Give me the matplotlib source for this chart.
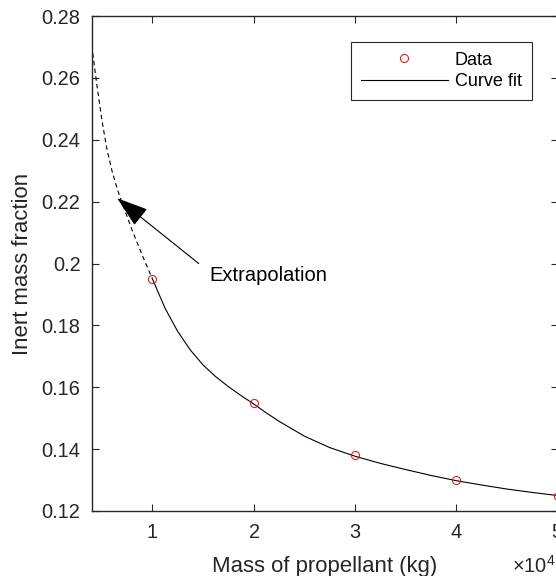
import numpy as np
import matplotlib
matplotlib.use("Agg")
import matplotlib.pyplot as plt
from matplotlib.ticker import ScalarFormatter

plt.rcParams['font.family'] = ['Liberation Sans', 'DejaVu Sans']
plt.rcParams['mathtext.fontset'] = 'custom'
plt.rcParams['mathtext.rm'] = 'Liberation Sans'
plt.rcParams['mathtext.it'] = 'Liberation Sans:italic'

# ---- data ----
propellant_mass = [10000, 20000, 30000, 40000, 50000]
inert_fraction = [0.195, 0.155, 0.138, 0.130, 0.125]

# curve fit values
fit_mass = [4100, 4500, 5000, 5500, 6000, 6500, 7000, 8000, 9000,
            10000, 11250, 12500, 13750, 15000, 16250, 17500, 18750,
            20000, 21250, 22500, 25000, 27500, 30000, 32500, 35000,
            37500, 40000, 42500, 45000, 47500, 50000]
fit_fraction = [0.2680, 0.2580, 0.2465, 0.2370, 0.2300, 0.2243, 0.2196, 0.2107, 0.2026,
                0.1950, 0.1855, 0.1780, 0.1720, 0.1672, 0.1634, 0.1602, 0.1573,
                0.1546, 0.1517, 0.1490, 0.1442, 0.1405, 0.1377, 0.1354, 0.1334,
                0.1315, 0.1298, 0.1284, 0.1271, 0.1260, 0.1250]
split_mass = 10000  # start of the measured range

x_label = "Mass of propellant (kg)"
y_label = "Inert mass fraction"
legend_labels = ["Data", "Curve fit"]
annotation_text = "Extrapolation"
arrow_tip = (6515, 0.2211)
arrow_tail = (14570, 0.2000)
text_pos = (15630, 0.1960)

ink = (0.15, 0.15, 0.15)

fig = plt.figure(figsize=(5.56, 5.76), dpi=100)
ax = fig.add_axes([91.7 / 556, 1 - 511 / 576, (557.5 - 91.7) / 556, (511 - 16) / 576])

fx = np.array(fit_mass)
fy = np.array(fit_fraction)
ext = fx <= split_mass
fit = fx >= split_mass

ax.plot(fx[ext], fy[ext], color='black', lw=0.8, dashes=(4, 3))
line_fit, = ax.plot(fx[fit], fy[fit], color='black', lw=0.8)
pts, = ax.plot(propellant_mass, inert_fraction, 'o', mfc='none', mec='red',
               ms=5.8, mew=0.7, zorder=3)

ax.set_xlim(4000, 50000)
ax.set_ylim(0.12, 0.28)
ax.set_xticks([10000, 20000, 30000, 40000, 50000])
ax.set_yticks(np.round(np.arange(0.12, 0.2801, 0.02), 2))
ax.set_yticklabels(["0.12", "0.14", "0.16", "0.18", "0.2", "0.22", "0.24", "0.26", "0.28"])

fmt = ScalarFormatter(useMathText=True)
fmt.set_powerlimits((0, 0))
ax.xaxis.set_major_formatter(fmt)
ax.xaxis.OFFSETTEXTPAD = 9
off = ax.xaxis.get_offset_text()
off.set_fontsize(14.4)
off.set_color(ink)
off.set_horizontalalignment('left')
off.set_x(0.903)

ax.tick_params(direction='in', top=True, right=True, length=5, width=0.8,
               colors=ink, labelsize=14.4)
ax.tick_params(axis='x', pad=9)
ax.tick_params(axis='y', pad=8)
for s in ax.spines.values():
    s.set_color(ink)
    s.set_linewidth(1.0)

ax.set_xlabel(x_label, fontsize=15.9, color=ink, labelpad=10)
ax.set_ylabel(y_label, fontsize=15.9, color=ink, labelpad=6)

leg = ax.legend([pts, line_fit], legend_labels, loc='upper right',
                bbox_to_anchor=(531.7 / 556, 1 - 41.7 / 576), bbox_transform=fig.transFigure,
                fontsize=13, frameon=True, fancybox=False, framealpha=1,
                edgecolor=ink, borderpad=0.55, handlelength=4.8,
                handletextpad=0.4, labelspacing=0.25, borderaxespad=0)
leg.get_frame().set_linewidth(0.8)

ax.annotate('', xy=arrow_tip, xytext=arrow_tail,
            arrowprops=dict(arrowstyle='-|>,head_length=1.0,head_width=0.33',
                            color='black', lw=0.8, shrinkA=0, shrinkB=0,
                            mutation_scale=20))
ax.text(text_pos[0], text_pos[1], annotation_text, fontsize=14.5, color='black',
        ha='left', va='center')

fig.savefig("out.png", dpi=100)
